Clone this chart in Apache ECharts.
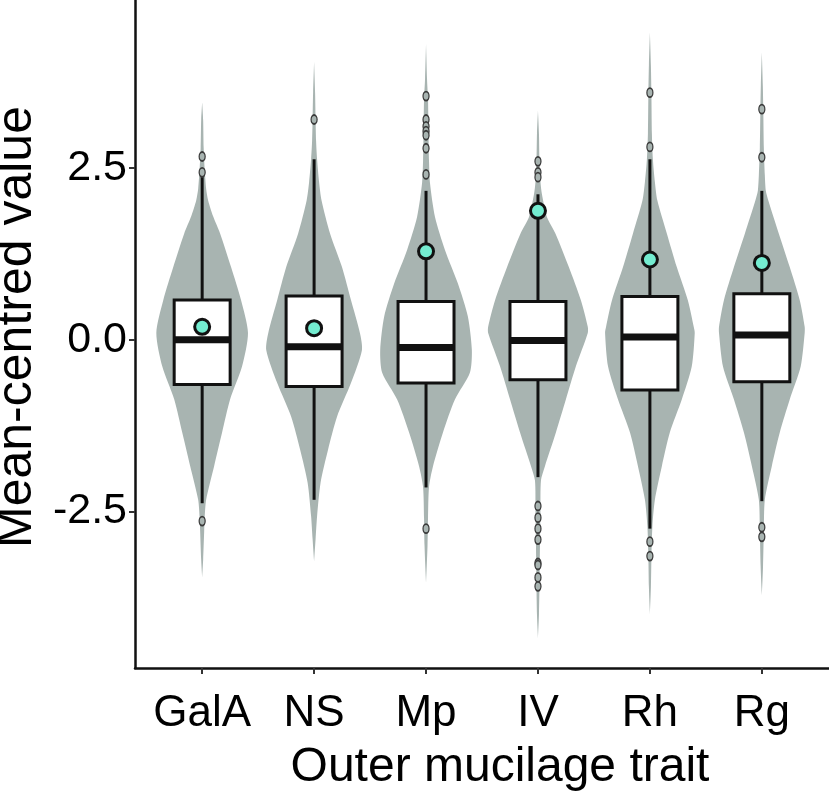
<!DOCTYPE html>
<html>
<head>
<meta charset="utf-8">
<script src="https://cdn.jsdelivr.net/npm/echarts@6/dist/echarts.min.js"></script>
<style>html,body{margin:0;padding:0;background:#fff}#chart{width:829px;height:801px}</style>
</head>
<body>
<div id="chart"></div>
<script>
// ---- data ----
const categories = ['GalA', 'NS', 'Mp', 'IV', 'Rh', 'Rg'];
const whiskerLow  = [-2.38, -2.33, -2.15, -2.00, -2.75, -2.35];
const quartile1   = [-0.65, -0.68, -0.63, -0.58, -0.73, -0.61];
const medians     = [ 0.00, -0.10, -0.11, -0.01,  0.04,  0.07];
const quartile3   = [ 0.58,  0.64,  0.56,  0.56,  0.63,  0.67];
const whiskerHigh = [ 2.37,  2.63,  2.17,  2.12,  2.63,  2.17];
const means       = [ 0.19,  0.17,  1.29,  1.88,  1.17,  1.12];

const outliersGalA = [2.67, 2.44, -2.64];
const outliersNS   = [3.21];
const outliersMp   = [3.55, 3.21, 3.11, 3.04, 2.98, 2.79, 2.41, -2.75];
const outliersIV   = [2.60, 2.44, 2.37, -2.42, -2.59, -2.75, -2.91, -3.25, -3.28, -3.46, -3.59];
const outliersRh   = [3.60, 2.81, -2.94, -3.15];
const outliersRg   = [3.36, 2.66, -2.73, -2.87];

// violin profiles: [value, relative density]
const violinGalA = [[3.46,0],[3.2,0.02],[2.8,0.03],[2.5,0.05],[2.2,0.08],[2.03,0.12],[1.8,0.22],[1.55,0.36],[1.06,0.58],[0.58,0.78],[0.1,0.92],[-0.39,0.8],[-0.87,0.56],[-1.35,0.4],[-1.84,0.24],[-2.33,0.08],[-2.6,0.05],[-2.8,0.04],[-3.2,0.02],[-3.46,0]];
const violinNS   = [[4.05,0],[3.6,0.02],[3.2,0.03],[2.9,0.04],[2.63,0.06],[2.3,0.1],[2.03,0.15],[1.55,0.32],[1.06,0.56],[0.58,0.74],[0.1,0.92],[-0.15,0.96],[-0.63,0.74],[-1.12,0.46],[-1.6,0.28],[-2.08,0.13],[-2.57,0.06],[-2.9,0.03],[-3.22,0]];
const violinMp   = [[4.31,0],[3.8,0.02],[3.5,0.04],[3.0,0.05],[2.6,0.06],[2.28,0.08],[1.79,0.18],[1.31,0.38],[0.82,0.64],[0.34,0.84],[-0.15,0.92],[-0.48,0.88],[-0.87,0.58],[-1.35,0.34],[-1.84,0.14],[-2.14,0.06],[-2.6,0.04],[-3.0,0.03],[-3.54,0]];
const violinIV   = [[3.34,0],[3.0,0.02],[2.6,0.03],[2.3,0.05],[2.12,0.08],[1.79,0.18],[1.55,0.35],[1.06,0.62],[0.58,0.86],[0.19,1.0],[0.1,1.0],[-0.39,0.76],[-0.87,0.56],[-1.35,0.36],[-1.84,0.14],[-2.05,0.06],[-2.5,0.05],[-3.0,0.04],[-3.6,0.03],[-4.0,0.02],[-4.35,0]];
const violinRh   = [[4.48,0],[4.0,0.02],[3.6,0.03],[3.0,0.04],[2.63,0.06],[2.3,0.1],[2.03,0.15],[1.55,0.34],[1.06,0.54],[0.58,0.76],[0.19,0.88],[0.1,0.9],[-0.39,0.84],[-0.87,0.64],[-1.35,0.4],[-1.84,0.24],[-2.33,0.1],[-2.72,0.05],[-3.2,0.03],[-3.6,0.02],[-4.0,0]];
const violinRg   = [[4.19,0],[3.7,0.02],[3.3,0.03],[2.8,0.04],[2.4,0.06],[2.17,0.08],[2.03,0.13],[1.55,0.34],[1.06,0.56],[0.58,0.76],[0.19,0.86],[0.1,0.86],[-0.39,0.78],[-0.87,0.56],[-1.35,0.36],[-1.84,0.2],[-2.33,0.06],[-2.8,0.04],[-3.3,0.024],[-3.72,0]];

const yTicks = [-2.5, 0, 2.5];
const xTicks = [1, 2, 3, 4, 5, 6];

// ---- build ----
const violins = [violinGalA, violinNS, violinMp, violinIV, violinRh, violinRg];
const outlierSets = [outliersGalA, outliersNS, outliersMp, outliersIV, outliersRh, outliersRg];
const VIOLIN_HALF = 0.445;   // category units at density 1
const BOX_HALF = 0.25;
const FONT = "'Liberation Sans', Arial, sans-serif";
const VIOLIN_COLOR = '#a8b4b1';

const boxData = categories.map((c, i) => [i + 1, whiskerLow[i], quartile1[i], medians[i], quartile3[i], whiskerHigh[i]]);
const outlierData = [];
outlierSets.forEach((arr, i) => arr.forEach(v => outlierData.push([i + 1, v])));
const meanData = means.map((m, i) => [i + 1, m]);

const chart = echarts.init(document.getElementById('chart'), null, {renderer: 'canvas'});
chart.setOption({
  animation: false,
  backgroundColor: '#fff',
  grid: {left: 135, right: 0, top: 0, bottom: 133, containLabel: false, outerBoundsMode: 'none'},
  xAxis: {
    type: 'value', min: 0.4, max: 6.6,
    name: 'Outer mucilage trait', nameLocation: 'middle', nameGap: 76,
    nameTextStyle: {fontFamily: FONT, fontSize: 48, color: '#000', padding: [0, 0, 0, 36]},
    axisLine: {show: true, onZero: false, lineStyle: {color: '#111', width: 2.5}},
    axisTick: {show: true, customValues: xTicks, length: 6, lineStyle: {color: '#333', width: 2}},
    axisLabel: {customValues: xTicks, formatter: v => categories[Math.round(v) - 1], fontFamily: FONT, fontSize: 44, color: '#000', margin: 24},
    splitLine: {show: false}
  },
  yAxis: {
    type: 'value', min: -4.78, max: 4.95,
    name: 'Mean-centred value', nameLocation: 'middle', nameGap: 82,
    nameTextStyle: {fontFamily: FONT, fontSize: 50, color: '#000', padding: [0, 0, 0, 14]},
    axisLine: {show: true, onZero: false, lineStyle: {color: '#111', width: 2.5}},
    axisTick: {show: true, customValues: yTicks, length: 6, lineStyle: {color: '#333', width: 2}},
    axisLabel: {customValues: yTicks, formatter: v => v.toFixed(1), fontFamily: FONT, fontSize: 43, color: '#000', margin: 8},
    splitLine: {show: false}
  },
  series: [
    {
      type: 'custom', name: 'violin',
      data: categories.map((c, i) => [i + 1, medians[i]]),
      encode: {x: 0, y: 1},
      renderItem: function (params, api) {
        const i = params.dataIndex;
        const cx = api.value(0);
        const prof = violins[i];
        const pts = [];
        prof.forEach(p => pts.push(api.coord([cx + p[1] * VIOLIN_HALF, p[0]])));
        for (let k = prof.length - 1; k >= 0; k--) pts.push(api.coord([cx - prof[k][1] * VIOLIN_HALF, prof[k][0]]));
        return {type: 'polygon', shape: {points: pts, smooth: 0.25}, style: {fill: VIOLIN_COLOR}};
      },
      z: 1
    },
    {
      type: 'custom', name: 'box',
      data: boxData,
      encode: {x: 0, y: [1, 2, 3, 4, 5]},
      renderItem: function (params, api) {
        const x = api.value(0);
        const lo = api.coord([x, api.value(1)]);
        const q1 = api.coord([x, api.value(2)]);
        const md = api.coord([x, api.value(3)]);
        const q3 = api.coord([x, api.value(4)]);
        const hi = api.coord([x, api.value(5)]);
        const xl = api.coord([x - BOX_HALF, 0])[0];
        const xr = api.coord([x + BOX_HALF, 0])[0];
        const ls = {stroke: '#111', lineWidth: 3};
        return {type: 'group', children: [
          {type: 'line', shape: {x1: lo[0], y1: lo[1], x2: q1[0], y2: q1[1]}, style: ls},
          {type: 'line', shape: {x1: q3[0], y1: q3[1], x2: hi[0], y2: hi[1]}, style: ls},
          {type: 'rect', shape: {x: xl, y: q3[1], width: xr - xl, height: q1[1] - q3[1]}, style: {fill: '#fff', stroke: '#111', lineWidth: 3}},
          {type: 'line', shape: {x1: xl, y1: md[1], x2: xr, y2: md[1]}, style: {stroke: '#111', lineWidth: 7}}
        ]};
      },
      z: 2
    },
    {
      type: 'scatter', name: 'outliers', data: outlierData,
      symbol: 'circle', symbolSize: [6, 9],
      itemStyle: {color: VIOLIN_COLOR, borderColor: '#3a3a3a', borderWidth: 1.5, opacity: 1},
      z: 3
    },
    {
      type: 'scatter', name: 'mean', data: meanData,
      symbol: 'circle', symbolSize: 15,
      itemStyle: {color: '#74ecd0', borderColor: '#111', borderWidth: 3, opacity: 1},
      z: 4
    }
  ]
});
</script>
</body>
</html>
